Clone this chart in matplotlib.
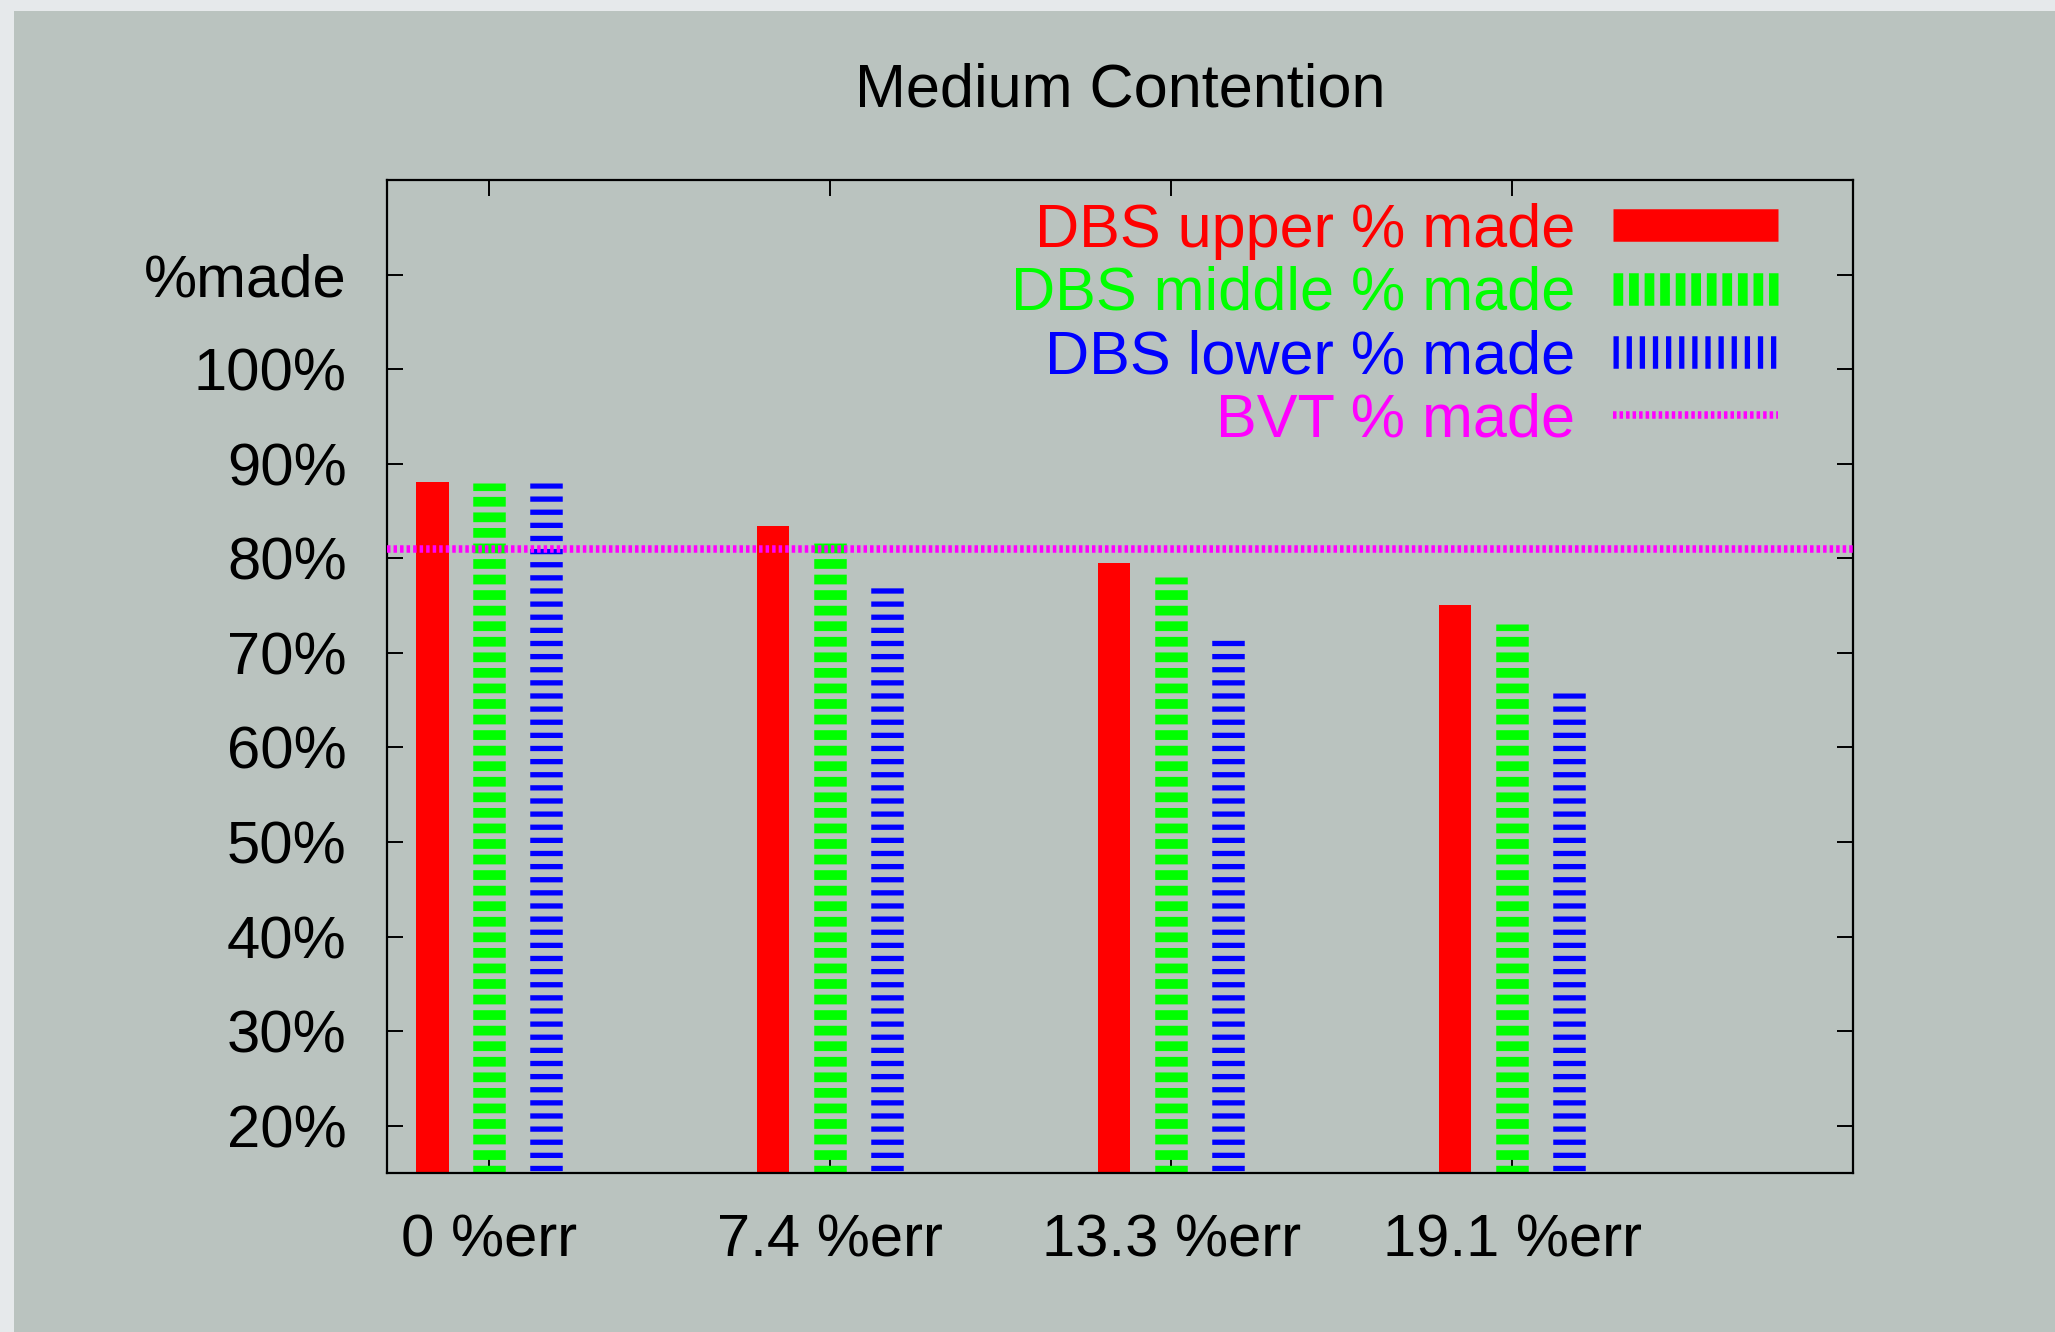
import numpy as np
import matplotlib
matplotlib.use('Agg')
from matplotlib import pyplot as plt
from matplotlib.lines import Line2D
from matplotlib.patches import Rectangle

plt.rcParams['font.family'] = ['Liberation Sans', 'DejaVu Sans']
plt.rcParams['lines.scale_dashes'] = False

# data
categories = ['0 %err', '7.4 %err', '13.3 %err', '19.1 %err']
dbs_upper = [88.1, 83.4, 79.5, 75.1]
dbs_middle = [88.0, 81.7, 78.0, 73.1]
dbs_lower = [88.0, 77.1, 71.5, 65.8]
bvt_made = 81.0

ytick_vals = [20, 30, 40, 50, 60, 70, 80, 90, 100, 110]
ytick_labels = ['20%', '30%', '40%', '50%', '60%', '70%', '80%', '90%', '100%', '%made']

bg = '#bac3bf'
red = '#ff0000'
green = '#00ff00'
blue = '#0000ff'
magenta = '#ff00ff'

W, H = 2055, 1332
fig = plt.figure(figsize=(W / 100, H / 100), dpi=100, facecolor='#e6e9eb')
fig.patches.append(Rectangle((14 / W, 0), 1, 1 - 11 / H, transform=fig.transFigure,
                             facecolor=bg, edgecolor='none', zorder=-10))

ax = fig.add_axes([387 / W, 1 - 1173 / H, 1466 / W, 993 / H])
ax.set_facecolor(bg)

x = np.arange(len(categories))
off = 0.167
bw = 0.095
lw_bar = 23.4  # points, same as bar width

ax.bar(x - off, dbs_upper, width=bw, bottom=0, color=red, zorder=2)

green_style = (0, (7.0, 4.2))
blue_style = (0, (3.8, 5.65))
bvt_style = (0, (2.5, 2.2))

ax.vlines(x, 0, dbs_middle, colors=green, linewidth=lw_bar,
          linestyles=[green_style], capstyle='butt', zorder=2)
ax.vlines(x + off, 0, dbs_lower, colors=blue, linewidth=lw_bar,
          linestyles=[blue_style], capstyle='butt', zorder=2)
ax.axhline(bvt_made, color=magenta, linewidth=5.4, linestyle=bvt_style,
           dash_capstyle='butt', zorder=3)

ax.set_xlim(-0.3, 4.0)
ax.set_ylim(15, 120)
ax.set_xticks(x)
ax.set_xticklabels(categories)
ax.set_yticks(ytick_vals)
ax.set_yticklabels(ytick_labels)
ax.tick_params(axis='both', direction='in', length=11.5, width=1.4, pad=29,
               labelsize=43, top=True, right=True, color='black')
for s in ax.spines.values():
    s.set_linewidth(1.6)

handles = [
    Line2D([], [], color=red, linewidth=lw_bar, solid_capstyle='butt'),
    Line2D([], [], color=green, linewidth=lw_bar, linestyle=green_style, dash_capstyle='butt'),
    Line2D([], [], color=blue, linewidth=lw_bar, linestyle=blue_style, dash_capstyle='butt'),
    Line2D([], [], color=magenta, linewidth=5.4, linestyle=bvt_style, dash_capstyle='butt'),
]
labels = ['DBS upper % made', 'DBS middle % made', 'DBS lower % made', 'BVT % made']
leg = ax.legend(handles, labels, loc='upper right', bbox_to_anchor=(0.9489, 0.977),
                frameon=False, markerfirst=False, fontsize=44, handlelength=2.7,
                handletextpad=0.62, labelspacing=0.1, borderpad=0, borderaxespad=0)
for t, c in zip(leg.get_texts(), [red, green, blue, magenta]):
    t.set_color(c)

fig.text((387 + 1466 / 2) / W, 1 - 106.7 / H, 'Medium Contention', ha='center',
         va='baseline', fontsize=44)

fig.savefig('out.png', dpi=100, facecolor=fig.get_facecolor())
